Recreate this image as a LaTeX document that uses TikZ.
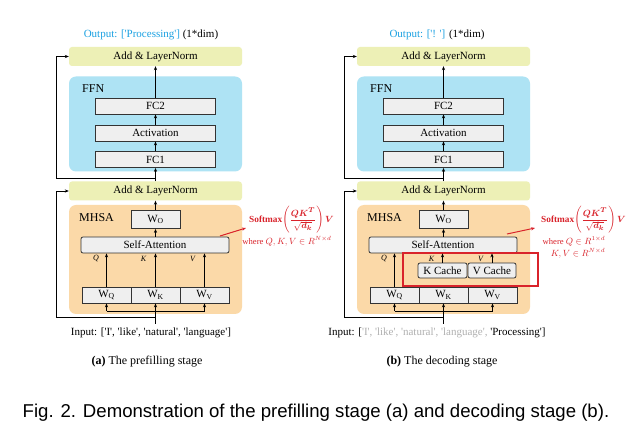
\documentclass[tikz,border=0pt]{standalone}
\usepackage{amsmath}
\usepackage{bm}
\usepackage{fontspec}
\setmainfont{Liberation Serif}
\newfontfamily\capfont{Liberation Sans}
\usetikzlibrary{arrows.meta}
\definecolor{lnfill}{HTML}{EDF0B6}
\definecolor{ffnfill}{HTML}{AEE3F4}
\definecolor{mhsafill}{HTML}{FBD9A8}
\definecolor{boxfill}{HTML}{EFEFEF}
\definecolor{boxline}{HTML}{333333}
\definecolor{outblue}{HTML}{1BA1E2}
\definecolor{redc}{HTML}{D9232B}
\definecolor{greytxt}{HTML}{B0B0B0}
\newcommand\sq[1]{\textquotesingle#1\textquotesingle}
\newcommand\fs[1]{\fontsize{#1}{#1}\selectfont}
\tikzset{
  lnbox/.style={fill=lnfill, rounded corners=3pt, minimum width=173pt, minimum height=19pt, inner sep=0pt, font=\fs{11}},
  panelbox/.style={rounded corners=7pt, inner sep=0pt},
  blk/.style={draw=boxline, fill=boxfill, line width=0.8pt, inner sep=0pt, minimum height=16pt, font=\fs{11}},
  arr/.style={-{Stealth[length=4pt,width=3.2pt]}, line width=0.7pt},
  lbl/.style={font=\fs{12}, anchor=west, inner sep=0pt},
  qkv/.style={font=\fs{8}\itshape, inner sep=0pt},
  txt/.style={font=\fs{11}, inner sep=0pt},
  capt/.style={font=\fs{12}, inner sep=0pt},
  frm/.style={text=redc, font=\fs{9.3}, inner sep=0pt},
  whr/.style={text=redc, font=\fs{8.6}, inner sep=0pt},
  redarr/.style={draw=redc, -{Stealth[length=4pt,width=3.2pt]}, line width=1pt},
}
\newcommand\drawcommon{%
  \node[lnbox] (lntop) at (155.5,56.5) {Add \& LayerNorm};
  \node[panelbox, fill=ffnfill, minimum width=173pt, minimum height=95pt] (ffn) at (155.5,124) {};
  \node[lbl] (ffnlbl) at (82,89) {FFN};
  \node[blk, minimum width=120pt] (fc2) at (155.5,106) {FC2};
  \node[blk, minimum width=120pt] (act) at (155.5,133) {Activation};
  \node[blk, minimum width=120pt] (fc1) at (155.5,159.5) {FC1};
  \node[lnbox] (lnmid) at (155.5,191) {Add \& LayerNorm};
  \node[panelbox, fill=mhsafill, minimum width=173pt, minimum height=109pt] (mhsa) at (155.5,259.5) {};
  \node[lbl] (mhsalbl) at (79,218) {MHSA};
  \node[blk, minimum width=49pt, minimum height=18pt] (wo) at (155.5,219.5) {W\textsubscript{O}};
  \node[blk, rounded corners=2pt, minimum width=148pt] (sa) at (155,245) {Self-Attention};
  \node[blk, minimum width=49pt] (wq) at (106.5,295) {W\textsubscript{Q}};
  \node[blk, minimum width=49pt] (wk) at (155.5,295) {W\textsubscript{K}};
  \node[blk, minimum width=49pt] (wv) at (204.5,295) {W\textsubscript{V}};
  \node[qkv] (ql) at (96,259) {Q};
  \node[qkv] (kl) at (143.5,259) {K};
  \node[qkv] (vl) at (192.5,259) {V};
  \draw[arr] (lnmid.north) -- (fc1.south);
  \draw[arr] (fc1.north) -- (act.south);
  \draw[arr] (act.north) -- (fc2.south);
  \draw[arr] (fc2.north) -- (lntop.south);
  \draw[arr] (wo.south |- sa.north) -- (wo.south);
  \draw[arr] (wo.north) -- (wo.north |- lnmid.south);
  \coordinate (lb1) at (155.5,178);
  \coordinate (lx1) at (56,178);
  \draw[arr] (lb1) -- (lx1) |- (lntop.west);
  \coordinate (inp) at (155.5,324);
  \coordinate (br) at (155.5,311);
  \draw[arr] (inp) -- (wk.south);
  \draw[arr] (wq.south |- br) -- (wq.south);
  \draw[arr] (wv.south |- br) -- (wv.south);
  \draw[line width=0.7pt] (wq.south |- br) -- (wv.south |- br);
  \coordinate (lb2) at (155.5,317);
  \coordinate (lx2) at (56,317);
  \draw[arr] (lb2) -- (lx2) |- (lnmid.west);
}
\newcommand\softmaxformula{\textbf{Softmax}$\left(\dfrac{\bm{QK^T}}{\sqrt{\bm{d_k}}}\right)\bm{V}$}
\begin{document}
\begin{tikzpicture}[x=1pt,y=-1pt]
\useasboundingbox[fill=white] (0,0) rectangle (630,438);

% ---------- panel (a)
\begin{scope}[name prefix=a-]
  \drawcommon
  \draw[arr] (wq.north) -- (wq.north |- sa.south);
  \draw[arr] (wk.north) -- (wk.north |- sa.south);
  \draw[arr] (wv.north) -- (wv.north |- sa.south);
  \node[txt] (out) at (151,35) {\textcolor{outblue}{Output: [\sq{Processing}]} (1*dim)};
  \node[txt] (in) at (151,333) {Input: [\sq{I}, \sq{like}, \sq{natural}, \sq{language}]};
  \node[capt] (cap) at (147,362) {\textbf{(a)} The prefilling stage};
\end{scope}

% ---------- panel (b)
\begin{scope}[xshift=288pt, name prefix=b-]
  \drawcommon
  \node[blk, rounded corners=2pt, minimum width=49pt, minimum height=15pt] (kc) at (154.5,270.5) {K Cache};
  \node[blk, rounded corners=2pt, minimum width=48pt, minimum height=15pt] (vc) at (204,270.5) {V Cache};
  \node[draw=redc, line width=1.1pt, inner sep=0pt, minimum width=135pt, minimum height=33pt] (cachebox) at (182.5,269.5) {};
  \draw[arr] (wq.north) -- (wq.north |- sa.south);
  \draw[arr] (kc.north) -- (kc.north |- sa.south);
  \draw[arr] (vc.north) -- (vc.north |- sa.south);
  \node[txt] (out) at (149,35) {\textcolor{outblue}{Output: [\sq{! }]} (1*dim)};
  \node[txt] (in) at (149,333) {Input: [\textcolor{greytxt}{\sq{I}, \sq{like}, \sq{natural}, \sq{language}, }\sq{Processing}]};
  \node[capt] (cap) at (154,362) {\textbf{(b)} The decoding stage};
\end{scope}

% ---------- formulas
\coordinate (fa0) at (220,236);
\coordinate (fa1) at (246,228);
\node[frm, anchor=west] (fa) at (249,220) {\softmaxformula};
\node[whr] (wa) at (287,241.5) {where $Q, K, V \in R^{N\times d}$};
\draw[redarr] (fa0) -- (fa1);

\coordinate (fb0) at (507,234);
\coordinate (fb1) at (535,228);
\node[frm, anchor=west] (fb) at (541,220) {\softmaxformula};
\node[whr] (wb1) at (574,241) {where $Q \in R^{1\times d}$};
\node[whr] (wb2) at (578,253) {$K, V \in R^{N\times d}$};
\draw[redarr] (fb0) -- (fb1);

% ---------- main caption
\node[inner sep=0pt, font=\capfont\fs{18.6}] (figcap) at (316,413) {Fig. 2. Demonstration of the prefilling stage (a) and decoding stage (b).};
\end{tikzpicture}
\end{document}
